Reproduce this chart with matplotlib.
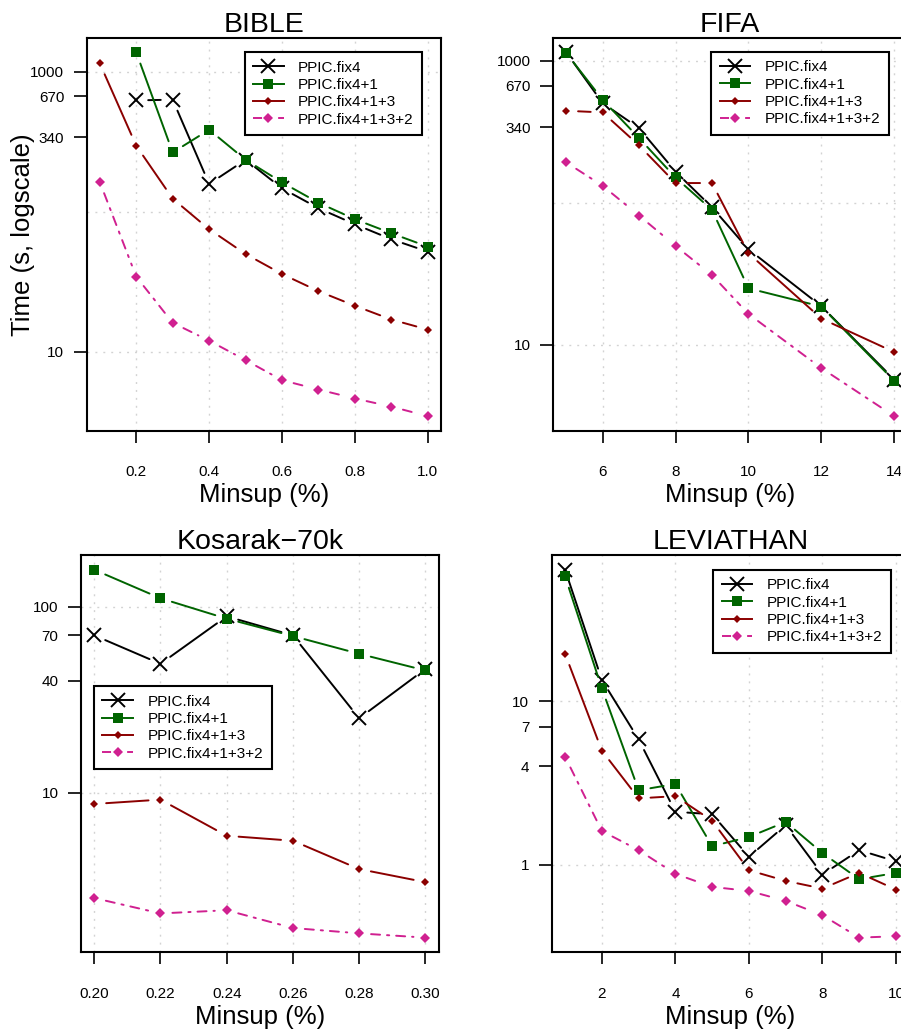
import numpy as np
import matplotlib
matplotlib.use("Agg")
import matplotlib.pyplot as plt
from matplotlib.lines import Line2D
from matplotlib.ticker import LogLocator, NullFormatter

plt.rcParams['font.family'] = ['Liberation Sans', 'DejaVu Sans']
plt.rcParams['lines.scale_dashes'] = False

# ---------------- data ----------------
series_names = ["PPIC.fix4", "PPIC.fix4+1", "PPIC.fix4+1+3", "PPIC.fix4+1+3+2"]

bible_minsup = [0.1, 0.2, 0.3, 0.4, 0.5, 0.6, 0.7, 0.8, 0.9, 1.0]
bible_fix4 = [np.nan, 624, 631, 158, 235, 147, 106, 81.4, 63.6, 51.9]
bible_fix4_1 = [np.nan, 1375, 265, 385, 235, 162, 116, 88.4, 70.2, 56.3]
bible_fix4_1_3 = [1147, 296, 124, 75, 49.9, 35.9, 27.1, 21.3, 17.0, 14.4]
bible_fix4_1_3_2 = [163, 34.4, 16.1, 12.0, 8.72, 6.27, 5.38, 4.64, 4.06, 3.47]
bible_xticks = [0.2, 0.4, 0.6, 0.8, 1.0]
bible_xticklabels = ["0.2", "0.4", "0.6", "0.8", "1.0"]
bible_yticks = [10, 340, 670, 1000]

fifa_minsup = [5, 6, 7, 8, 9, 10, 12, 14]
fifa_fix4 = [1151, 505, 336, 166, 93.1, 47.1, 18.7, 5.69]
fifa_fix4_1 = [1140, 533, 286, 151, 89.2, 25.0, 18.6, 5.57]
fifa_fix4_1_3 = [446, 434, 254, 138, 138, 44.2, 15.3, 8.88]
fifa_fix4_1_3_2 = [193, 132, 81.4, 49.7, 31.0, 16.5, 6.85, 3.14]
fifa_xticks = [6, 8, 10, 12, 14]
fifa_xticklabels = ["6", "8", "10", "12", "14"]
fifa_yticks = [10, 340, 670, 1000]

kosarak_minsup = [0.20, 0.22, 0.24, 0.26, 0.28, 0.30]
kosarak_fix4 = [70.1, 49.3, 88.7, 70.1, 25.1, 46.2]
kosarak_fix4_1 = [158, 111, 86.2, 69.5, 55.8, 45.4]
kosarak_fix4_1_3 = [8.69, 9.17, 5.86, 5.51, 3.88, 3.30]
kosarak_fix4_1_3_2 = [2.71, 2.24, 2.33, 1.87, 1.75, 1.66]
kosarak_xticks = [0.20, 0.22, 0.24, 0.26, 0.28, 0.30]
kosarak_xticklabels = ["0.20", "0.22", "0.24", "0.26", "0.28", "0.30"]
kosarak_yticks = [10, 40, 70, 100]

leviathan_minsup = [1, 2, 3, 4, 5, 6, 7, 8, 9, 10]
leviathan_fix4 = [63.7, 13.5, 5.85, 2.11, 2.04, 1.12, 1.75, 0.873, 1.23, 1.05]
leviathan_fix4_1 = [58.0, 12.0, 2.86, 3.12, 1.30, 1.48, 1.83, 1.18, 0.817, 0.893]
leviathan_fix4_1_3 = [19.5, 4.99, 2.55, 2.63, 1.86, 0.927, 0.798, 0.716, 0.893, 0.706]
leviathan_fix4_1_3_2 = [4.58, 1.61, 1.23, 0.881, 0.733, 0.693, 0.602, 0.492, 0.359, 0.366]
leviathan_xticks = [2, 4, 6, 8, 10]
leviathan_xticklabels = ["2", "4", "6", "8", "10"]
leviathan_yticks = [1, 4, 7, 10]

# ---------------- style ----------------
colors = ["black", "#006400", "#8B0000", "#D02090"]
markers = ["x", "s", "D", "D"]
msizes = [9.4, 7.2, 4.4, 4.6]
linestyles = ["-", "-", "-", (0, (6.5, 5, 1.6, 5))]
LW = 1.4
GAP = 8.6
GRID_KW = dict(color="#D3D3D3", linestyle=(0, (1.4, 4.3)), linewidth=1.0)


def draw_panel(ax, title, x, ys, xticks, xticklabels, yticks, leg_loc, leg_anchor, ylabel=None):
    x = np.asarray(x, dtype=float)
    allv = np.concatenate([np.asarray(y, dtype=float) for y in ys])
    allv = allv[np.isfinite(allv)]
    ax.set_yscale("log")
    xr = x.max() - x.min()
    ax.set_xlim(x.min() - 0.04 * xr, x.max() + 0.04 * xr)
    lmin, lmax = np.log10(allv.min()), np.log10(allv.max())
    lr = lmax - lmin
    ax.set_ylim(10 ** (lmin - 0.04 * lr), 10 ** (lmax + 0.04 * lr))

    for i, y in enumerate(ys):
        y = np.asarray(y, dtype=float)
        z = 3 + i * 0.1
        for j in range(len(x) - 1):
            if np.isfinite(y[j]) and np.isfinite(y[j + 1]):
                ax.annotate("", xy=(x[j + 1], y[j + 1]), xytext=(x[j], y[j]),
                            arrowprops=dict(arrowstyle="-", shrinkA=GAP, shrinkB=GAP,
                                            color=colors[i], lw=LW, linestyle=linestyles[i]),
                            zorder=z)
        ok = np.isfinite(y)
        if markers[i] == "x":
            ax.plot(x[ok], y[ok], linestyle="none", marker="x", ms=msizes[i],
                    mew=1.4, color=colors[i], zorder=z + 0.05)
        else:
            ax.plot(x[ok], y[ok], linestyle="none", marker=markers[i], ms=msizes[i],
                    mew=0, color=colors[i], zorder=z + 0.05)

    ax.set_xticks(xticks, labels=xticklabels)
    ax.set_yticks(yticks, labels=[str(v) for v in yticks])
    ax.yaxis.set_minor_locator(LogLocator(base=10.0, subs=(1.0,), numticks=30))
    ax.yaxis.set_minor_formatter(NullFormatter())
    ax.yaxis.remove_overlapping_locs = False
    ax.xaxis.set_minor_locator(matplotlib.ticker.NullLocator())
    ax.tick_params(axis="y", which="minor", length=0)
    ax.tick_params(axis="x", which="major", direction="out", length=8.6, width=1.2,
                   pad=16.0, labelsize=11)
    ax.tick_params(axis="y", which="major", direction="out", length=9.2, width=1.2,
                   pad=7.0, labelsize=11)
    ax.grid(True, which="minor", axis="y", **GRID_KW)
    ax.grid(False, which="major", axis="y")
    ax.grid(True, which="major", axis="x", **GRID_KW)
    ax.set_axisbelow(True)
    for s in ax.spines.values():
        s.set_linewidth(1.5)

    ax.set_title(title, fontsize=20.5, pad=4)
    ax.set_xlabel("Minsup (%)", fontsize=18.5, labelpad=3.0)
    if ylabel:
        ax.set_ylabel(ylabel, fontsize=18.5)
        ax.yaxis.set_label_coords(-0.145, 0.5)

    handles = [Line2D([], [], color=colors[i], lw=LW, linestyle=linestyles[i],
                      marker=markers[i], ms=msizes[i], mew=(1.4 if markers[i] == "x" else 0))
               for i in range(4)]
    leg = ax.legend(handles, series_names, loc=leg_loc, bbox_to_anchor=leg_anchor,
                    fontsize=11, frameon=True, fancybox=False, framealpha=1,
                    edgecolor="black", borderpad=0.55, labelspacing=0.22,
                    handlelength=2.0, handletextpad=0.95, borderaxespad=0.0,
                    numpoints=1)
    leg.get_frame().set_linewidth(1.5)
    leg.set_zorder(10)


fig = plt.figure(figsize=(9.01, 10.29), dpi=100)
ax1 = fig.add_axes([0.0962, 0.5814, 0.3932, 0.3819])
ax2 = fig.add_axes([0.6138, 0.5814, 0.3933, 0.3819])
ax3 = fig.add_axes([0.0899, 0.0745, 0.3969, 0.3861])
ax4 = fig.add_axes([0.6125, 0.0745, 0.3966, 0.3861])

draw_panel(ax1, "BIBLE", bible_minsup,
           [bible_fix4, bible_fix4_1, bible_fix4_1_3, bible_fix4_1_3_2],
           bible_xticks, bible_xticklabels, bible_yticks,
           "upper right", (0.947, 0.963), ylabel="Time (s, logscale)")
draw_panel(ax2, "FIFA", fifa_minsup,
           [fifa_fix4, fifa_fix4_1, fifa_fix4_1_3, fifa_fix4_1_3_2],
           fifa_xticks, fifa_xticklabels, fifa_yticks,
           "upper right", (0.947, 0.964))
draw_panel(ax3, "Kosarak\u221270k", kosarak_minsup,
           [kosarak_fix4, kosarak_fix4_1, kosarak_fix4_1_3, kosarak_fix4_1_3_2],
           kosarak_xticks, kosarak_xticklabels, kosarak_yticks,
           "upper left", (0.0364, 0.670))
draw_panel(ax4, "LEVIATHAN", leviathan_minsup,
           [leviathan_fix4, leviathan_fix4_1, leviathan_fix4_1_3, leviathan_fix4_1_3_2],
           leviathan_xticks, leviathan_xticklabels, leviathan_yticks,
           "upper right", (0.948, 0.963))

fig.savefig("out.png", dpi=100)
